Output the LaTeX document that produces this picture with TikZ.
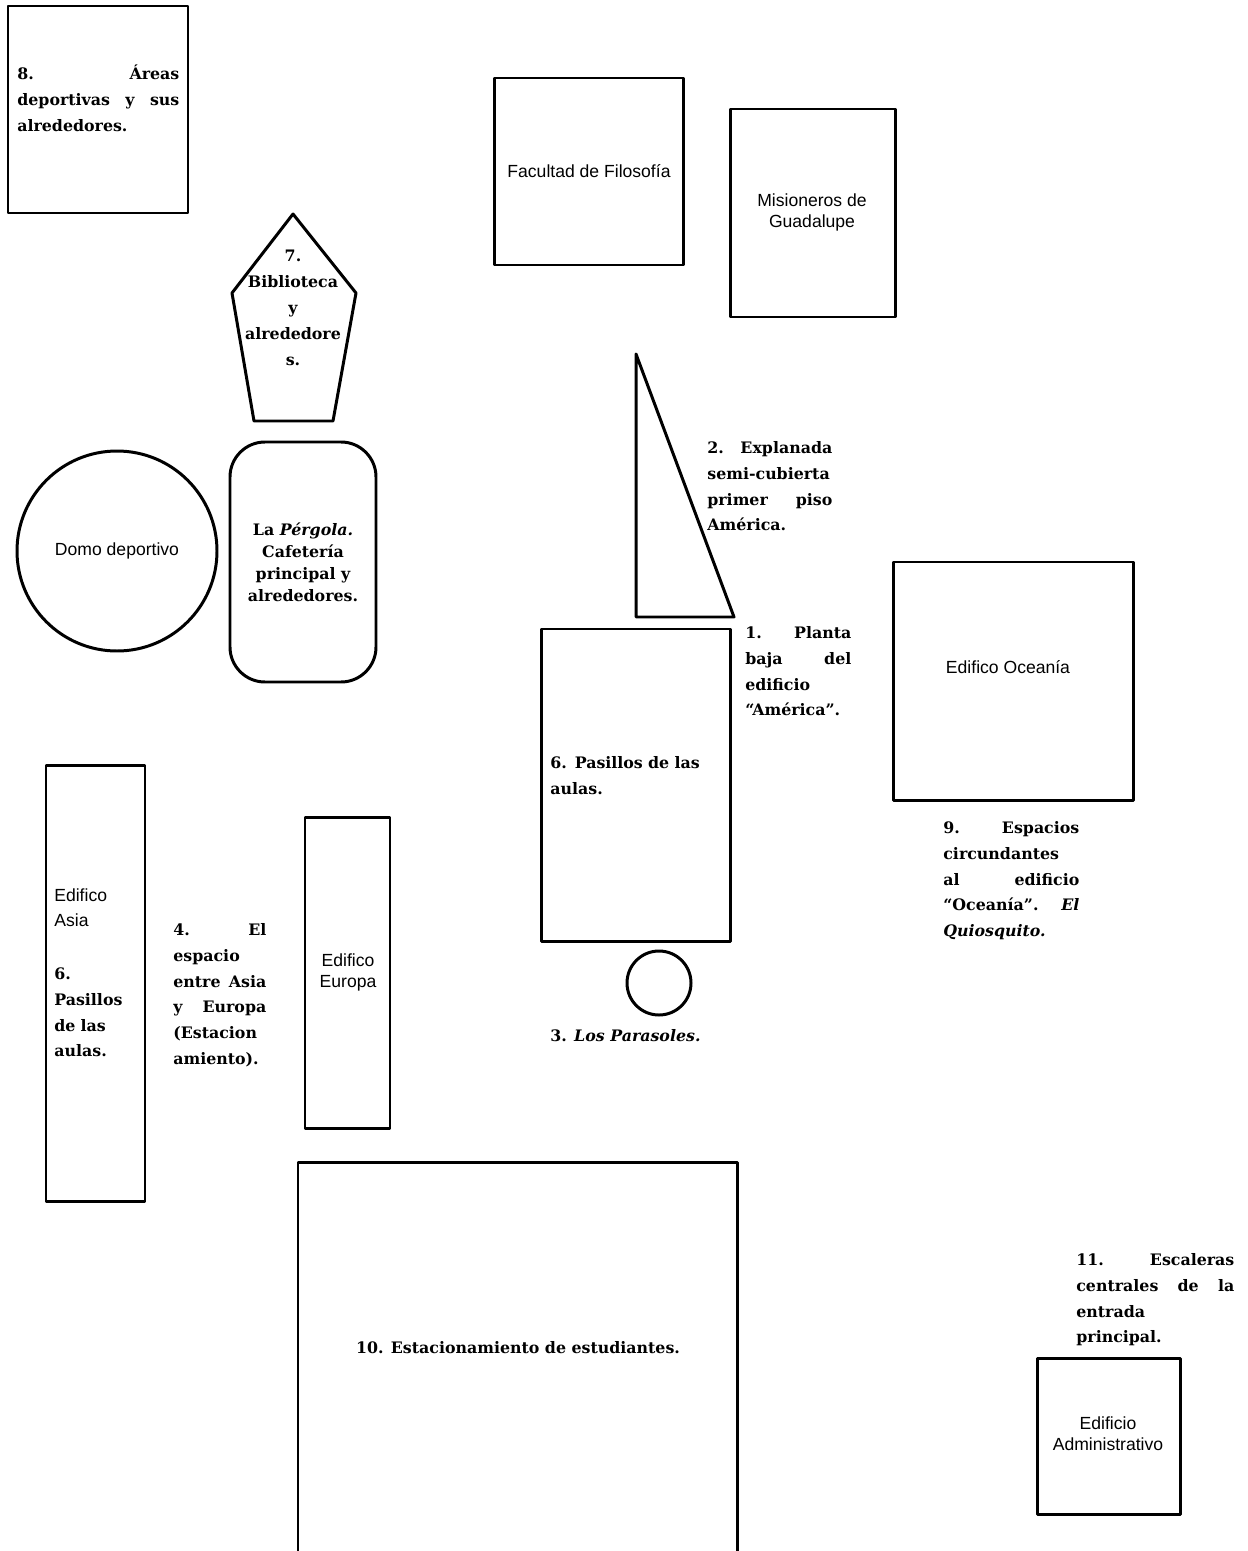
\documentclass[tikz,border=0pt]{standalone}
\usepackage{fontspec}
\setmainfont{DejaVu Serif}
\setsansfont{Liberation Sans}
\usepackage{tikz}

\tikzset{
  wall/.style={line width=1.7pt, line join=round},
  sanslbl/.style={font=\sffamily\fontsize{10}{12}\selectfont, align=center, inner sep=0pt},
  boldlbl/.style={font=\bfseries\fontsize{9}{14.7}\selectfont, align=left, inner sep=0pt,
    anchor=north west, execute at begin node={\noindent\strut}},
  boldmid/.style={font=\bfseries\fontsize{9}{14.7}\selectfont, align=center, inner sep=0pt}
}

\begin{document}
\begin{tikzpicture}[x=0.02cm, y=-0.02cm]
    \useasboundingbox (0,0) rectangle (1247,1551);

    % Areas deportivas
    \draw[wall] (8,6) rectangle (188,213);
    \node[boldlbl, text width=3.24cm] (sports) at (17,61) {8.\hfill Áreas\\ deportivas\hfill y\hfill sus\\ alrededores.};

    % Biblioteca
    \draw[wall] (293,214) -- (356,293) -- (333,421) -- (254,421) -- (232,293) -- cycle;
    \node[boldmid] (biblio) at (293,308) {7.\\ Biblioteca\\ y\\ alrededore\\ s.};

    % Filosofia and Misioneros
    \draw[wall] (494,78) rectangle (683,265);
    \node[sanslbl] (filosofia) at (589,171) {Facultad de Filosofía};
    \draw[wall] (730,109) rectangle (895,317);
    \node[sanslbl] (misioneros) at (812,212) {Misioneros de\\ Guadalupe};

    % Explanada
    \draw[wall] (636,354) -- (636,617) -- (734,617) -- cycle;
    \node[boldlbl, text width=2.5cm] (explanada) at (707,435) {2.\hfill Explanada\\ semi-cubierta\\ primer\hfill piso\\ América.};

    % Domo and Pergola
    \draw[wall] (117,551) circle (100);
    \node[sanslbl] (domo) at (117,551) {Domo deportivo};
    \draw[wall, rounded corners=0.7cm] (230,442) rectangle (376,682);
    \node[boldmid, font=\bfseries\fontsize{9}{12.5}\selectfont] (pergola) at (303,562) {La \textit{Pérgola.}\\ Cafetería\\ principal y\\ alrededores.};

    % America
    \draw[wall] (541,629) rectangle (730,941);
    \node[boldlbl, text width=3.2cm] (america) at (550,750) {6. Pasillos de las\\ aulas.};
    \node[boldlbl, text width=2.12cm] (planta) at (745,620) {1.\hfill Planta\\ baja\hfill del\\ edificio\\ “América”.};

    % Oceania
    \draw[wall] (893,562) rectangle (1133,800);
    \node[sanslbl] (oceania) at (1008,667) {Edifico Oceanía};
    \node[boldlbl, text width=2.72cm] (circund) at (943,815) {9.\hfill Espacios\\ circundantes\\ al\hfill edificio\\ “Oceanía”.\hfill\textit{El}\\ \textit{Quiosquito.}};

    % Asia and Europa
    \draw[wall] (46,765) rectangle (145,1201);
    \node[sanslbl, align=left, anchor=north west, font=\sffamily\fontsize{10}{14.7}\selectfont] (asia) at (54,888) {Edifico\\ Asia};
    \node[boldlbl, text width=1.6cm] (asiaaulas) at (54,961) {6.\\ Pasillos\\ de las\\ aulas.};
    \node[boldlbl, text width=1.86cm] (espacio) at (173,917) {4.\hfill El\\ espacio\\ entre\hfill Asia\\ y\hfill Europa\\ (Estacion\\ amiento).};
    \draw[wall] (305,817) rectangle (390,1128);
    \node[sanslbl] (europa) at (348,972) {Edifico\\ Europa};

    % Parasoles
    \draw[wall] (659,983) circle (32);
    \node[boldlbl] (parasoles) at (550,1023) {3. \textit{Los Parasoles.}};

    % Estacionamiento
    \draw[wall] (298,1560) |- (737,1162) -- (737,1560);
    \node[boldmid] (estac) at (518,1348) {10. Estacionamiento de estudiantes.};

    % Administrativo
    \node[boldlbl, text width=3.16cm] (escaleras) at (1076,1247) {11.\hfill Escaleras\\ centrales\hfill de\hfill la\\ entrada\\ principal.};
    \draw[wall] (1037,1358) rectangle (1180,1514);
    \node[sanslbl] (admin) at (1108,1434) {Edificio\\ Administrativo};
\end{tikzpicture}
\end{document}
